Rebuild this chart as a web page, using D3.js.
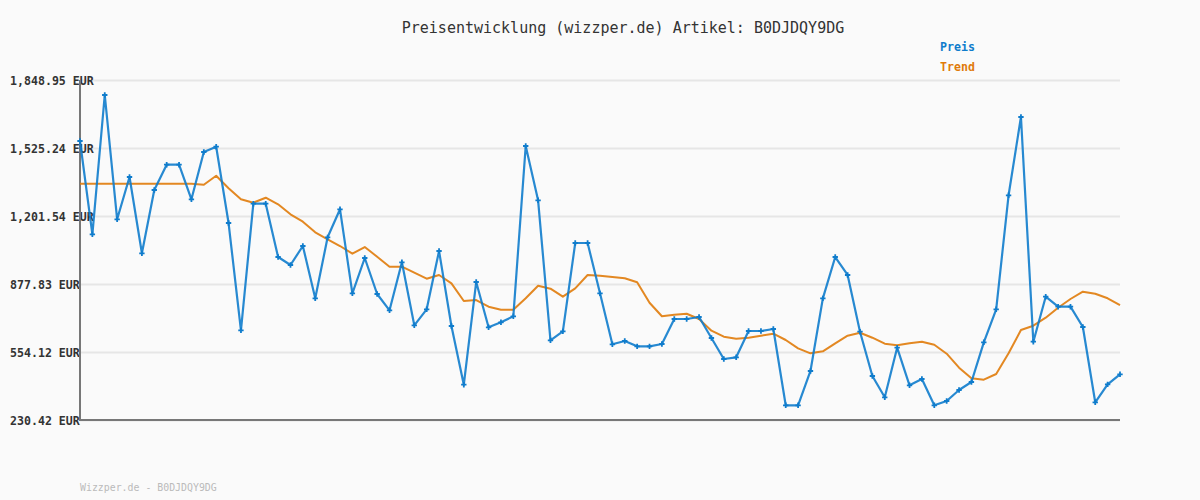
<!DOCTYPE html>
<html>
<head>
<meta charset="utf-8">
<script src="https://cdn.jsdelivr.net/npm/d3@7"></script>
<style>
  html, body { margin: 0; padding: 0; background: #fafafa; }
  svg { display: block; }
  text { font-family: "DejaVu Sans Mono", "Liberation Mono", monospace; }
</style>
</head>
<body>
<svg id="chart" width="1200" height="500"></svg>
<script>
const titleText = "Preisentwicklung (wizzper.de) Artikel: B0DJDQY9DG";
const footerText = "Wizzper.de - B0DJDQY9DG";
const seriesNames = ["Preis", "Trend"];
const yTicks = [230.42, 554.12, 877.83, 1201.54, 1525.24, 1848.95];

const preis = [
  1558.5, 1114.4, 1777.5, 1185.8, 1387.2, 1024.0, 1325.3, 1445.7, 1445.7, 1281.0,
  1506.2, 1531.4, 1168.2, 657.4, 1260.1, 1260.1, 1006.3, 968.3, 1058.7, 809.7,
  1100.1, 1233.4, 833.5, 1001.6, 830.2, 752.6, 981.1, 681.2, 757.4, 1034.9,
  677.9, 398.4, 887.3, 671.7, 695.5, 724.1, 1534.8, 1276.3, 609.8, 652.6,
  1073.0, 1073.0, 833.5, 590.8, 606.5, 581.2, 581.2, 592.2, 711.2, 711.2,
  720.7, 620.8, 520.8, 528.9, 654.1, 654.1, 663.6, 300.4, 300.4, 463.7,
  809.7, 1006.3, 920.7, 650.7, 439.9, 338.5, 574.6, 395.6, 425.6, 300.4,
  320.8, 373.2, 411.3, 600.3, 757.4, 1300.1, 1672.8, 603.1, 817.4, 769.8,
  769.8, 673.1, 314.7, 400.3, 448.0
];

const trend = [
  1355.3, 1355.3, 1355.3, 1355.3, 1355.3, 1355.3, 1355.3, 1355.3, 1355.3, 1355.3,
  1350.5, 1393.4, 1333.4, 1281.0, 1264.8, 1288.6, 1257.2, 1209.6, 1174.4, 1123.9,
  1090.6, 1058.7, 1022.1, 1053.9, 1007.8, 960.2, 960.2, 931.6, 903.0, 920.7,
  881.1, 796.9, 801.6, 769.8, 755.5, 755.5, 809.7, 869.7, 855.4, 817.4,
  857.3, 920.7, 917.3, 911.1, 904.9, 885.9, 788.8, 724.1, 731.7, 736.4,
  711.2, 655.5, 626.9, 617.4, 622.2, 631.7, 641.2, 611.2, 571.7, 547.9,
  557.4, 595.5, 631.7, 646.0, 622.2, 593.6, 586.0, 595.5, 603.1, 588.9,
  546.0, 479.4, 428.9, 422.2, 449.4, 547.9, 658.8, 679.3, 717.4, 765.0,
  806.4, 841.2, 831.6, 809.7, 777.8
];

const colors = { preis: "#0f7ccc", trend: "#e07b0a" };

const svg = d3.select("#chart");
const margin = { left: 80, right: 80, top: 80, bottom: 80 };
const W = 1200, H = 500;

const x = d3.scaleLinear().domain([0, preis.length - 1]).range([margin.left, W - margin.right]);
const y = d3.scaleLinear().domain([yTicks[0], yTicks[yTicks.length - 1]]).range([H - margin.bottom, margin.top]);

svg.append("rect").attr("width", W).attr("height", H).attr("fill", "#fafafa");

// gridlines
const yAxis = d3.axisLeft(y).tickValues(yTicks)
  .tickSize(-(W - margin.left - margin.right))
  .tickFormat(d => d3.format(",.2f")(d) + " EUR");
const gy = svg.append("g").attr("transform", `translate(${margin.left},0)`).call(yAxis);
gy.select(".domain").remove();
gy.selectAll(".tick line").attr("stroke", "#e6e6e6").attr("stroke-width", 2);
gy.selectAll(".tick text")
  .attr("x", 10 - margin.left)
  .attr("text-anchor", "start")
  .attr("dy", "0.35em")
  .attr("fill", "#333")
  .attr("font-weight", "bold")
  .style("font-size", "11.6px")
  .style("font-family", "'DejaVu Sans Mono', monospace");

// axis lines
svg.append("line")
  .attr("x1", margin.left).attr("x2", margin.left)
  .attr("y1", y(yTicks[yTicks.length - 1])).attr("y2", y(yTicks[0]) + 1)
  .attr("stroke", "#777").attr("stroke-width", 2);
svg.append("line")
  .attr("x1", margin.left - 1).attr("x2", W - margin.right)
  .attr("y1", y(yTicks[0])).attr("y2", y(yTicks[0]))
  .attr("stroke", "#777").attr("stroke-width", 2);

// trend line
const line = d3.line().x((d, i) => x(i)).y(d => y(d));
svg.append("path").datum(trend)
  .attr("d", line).attr("fill", "none")
  .attr("stroke", colors.trend).attr("stroke-width", 2).attr("stroke-linejoin", "round")
  .attr("opacity", 0.9);

// price line
svg.append("path").datum(preis)
  .attr("d", line).attr("fill", "none")
  .attr("stroke", colors.preis).attr("stroke-width", 2.2).attr("stroke-linejoin", "round")
  .attr("opacity", 0.9);

// markers
svg.append("g").selectAll("path").data(preis).join("path")
  .attr("transform", (d, i) => `translate(${x(i)},${y(d)})`)
  .attr("d", d3.symbol().type(d3.symbolCross).size(16))
  .attr("fill", colors.preis);

// title
svg.append("text")
  .attr("x", 623).attr("y", 33)
  .attr("text-anchor", "middle")
  .attr("fill", "#333")
  .style("font-size", "15px")
  .text(titleText);

// legend
svg.append("text").attr("x", 940).attr("y", 51)
  .attr("fill", colors.preis).attr("font-weight", "bold").style("font-size", "11.6px")
  .text(seriesNames[0]);
svg.append("text").attr("x", 940).attr("y", 71)
  .attr("fill", colors.trend).attr("font-weight", "bold").style("font-size", "11.6px")
  .text(seriesNames[1]);

// footer
svg.append("text").attr("x", 80).attr("y", 491)
  .attr("fill", "#bbb").style("font-size", "9.9px")
  .text(footerText);
</script>
</body>
</html>
